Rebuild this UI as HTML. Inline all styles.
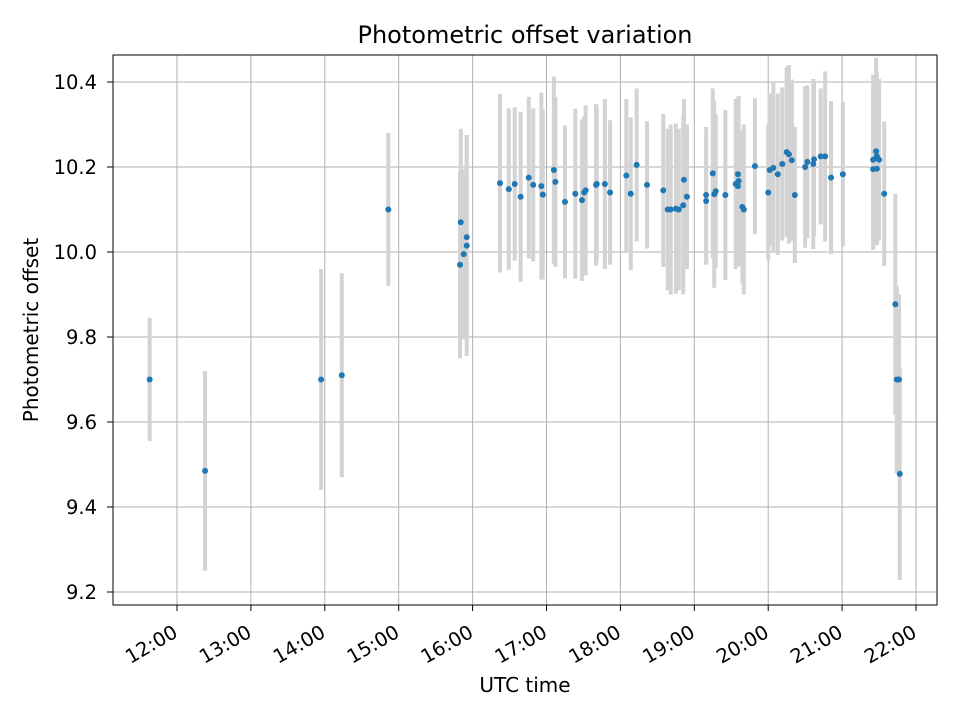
<!DOCTYPE html>
<html><head><meta charset="utf-8"><style>
body{margin:0;background:#fff;font-family:"Liberation Sans","DejaVu Sans",sans-serif;}
svg text{font-family:"DejaVu Sans","Liberation Sans",sans-serif;fill:#000;}
</style></head><body>
<svg id="chart" width="960" height="720" viewBox="0 0 960 720" xmlns="http://www.w3.org/2000/svg">
<rect width="960" height="720" fill="#fff"/>
<g id="grid"></g>
<g id="bars"></g>
<g id="pts"></g>
<rect x="113" y="55" width="824" height="550" fill="none" stroke="#000" stroke-width="1"/>
<g id="axes"></g>
<text x="525" y="43" font-size="24" text-anchor="middle">Photometric offset variation</text>
<text x="525" y="692" font-size="20" text-anchor="middle">UTC time</text>
<text x="38" y="330" font-size="20" text-anchor="middle" transform="rotate(-90 38 330)">Photometric offset</text>
</svg>
<script>
const times=[11.63,12.38,13.95,14.23,14.86,15.83,15.84,15.88,15.92,15.92,16.37,16.49,16.57,16.65,16.76,16.82,16.93,16.95,17.10,17.12,17.25,17.39,17.48,17.51,17.53,17.67,17.68,17.79,17.86,18.08,18.14,18.22,18.36,18.58,18.64,18.68,18.75,18.79,18.85,18.86,18.90,19.16,19.16,19.25,19.27,19.29,19.42,19.56,19.59,19.60,19.59,19.65,19.67,19.82,20.00,20.02,20.07,20.13,20.19,20.25,20.28,20.32,20.36,20.50,20.53,20.61,20.62,20.71,20.77,20.85,21.01,21.42,21.42,21.46,21.47,21.47,21.50,21.57,21.72,21.74,21.77,21.78];
const offsets=[9.70,9.485,9.70,9.71,10.10,9.97,10.07,9.995,10.015,10.035,10.162,10.148,10.16,10.13,10.175,10.158,10.155,10.135,10.193,10.165,10.118,10.137,10.122,10.14,10.145,10.158,10.16,10.16,10.14,10.18,10.137,10.205,10.158,10.145,10.10,10.10,10.102,10.10,10.11,10.17,10.13,10.134,10.12,10.185,10.136,10.143,10.134,10.16,10.183,10.167,10.155,10.106,10.10,10.202,10.14,10.193,10.198,10.183,10.207,10.235,10.23,10.216,10.134,10.20,10.212,10.207,10.218,10.225,10.225,10.175,10.183,10.217,10.195,10.237,10.225,10.196,10.217,10.137,9.877,9.70,9.70,9.478];
const errors=[0.145,0.235,0.26,0.24,0.18,0.22,0.22,0.2,0.26,0.24,0.21,0.19,0.18,0.2,0.19,0.18,0.22,0.2,0.22,0.2,0.18,0.2,0.19,0.18,0.2,0.19,0.18,0.2,0.17,0.18,0.18,0.18,0.15,0.18,0.19,0.2,0.2,0.19,0.21,0.19,0.17,0.16,0.15,0.2,0.22,0.18,0.2,0.2,0.18,0.2,0.19,0.18,0.2,0.16,0.16,0.18,0.2,0.19,0.18,0.2,0.21,0.19,0.16,0.19,0.18,0.2,0.18,0.16,0.2,0.18,0.17,0.2,0.19,0.22,0.2,0.18,0.19,0.17,0.26,0.22,0.2,0.25];
const yTicks=[9.2,9.4,9.6,9.8,10.0,10.2,10.4];
const yTickLabels=["9.2","9.4","9.6","9.8","10.0","10.2","10.4"];
const xTicks=[12,13,14,15,16,17,18,19,20,21,22];
const xTickLabels=["12:00","13:00","14:00","15:00","16:00","17:00","18:00","19:00","20:00","21:00","22:00"];
const L=113,R=937,T=55,B=605,xmin=11.134,xmax=22.284,ymin=9.1694,ymax=10.4635;
const X=v=>L+(v-xmin)/(xmax-xmin)*(R-L);
const Y=v=>B-(v-ymin)/(ymax-ymin)*(B-T);
const NS="http://www.w3.org/2000/svg";
function mk(tag,attrs,parent){const e=document.createElementNS(NS,tag);for(const k in attrs)e.setAttribute(k,attrs[k]);parent.appendChild(e);return e;}
const grid=document.getElementById('grid'),axes=document.getElementById('axes'),bars=document.getElementById('bars'),pts=document.getElementById('pts');
yTicks.forEach((v,i)=>{const y=Y(v);
 const g=mk('line',{x1:L,x2:R,y1:y,y2:y,stroke:'#b0b0b0','stroke-width':1},grid);
 
 const t=mk('line',{x1:L-6,x2:L,y1:y,y2:y,stroke:'#000'},axes);
 
 const tx=mk('text',{x:L-16,y:y+7,'font-size':19.5,'text-anchor':'end'},axes);tx.textContent=yTickLabels[i];
 
});
xTicks.forEach((v,i)=>{const x=X(v);
 const g=mk('line',{x1:x,x2:x,y1:T,y2:B,stroke:'#b0b0b0','stroke-width':1},grid);
 
 const t=mk('line',{x1:x,x2:x,y1:B,y2:B+6,stroke:'#000'},axes);
 
 const ax=x+2,ay=B+31;
 const tx=mk('text',{x:ax,y:ay,'font-size':19.5,'text-anchor':'end',transform:`rotate(-30 ${ax} ${ay})`},axes);tx.textContent=xTickLabels[i];
 
});
times.forEach((t,i)=>{const x=X(t);
 const b=mk('line',{x1:x,x2:x,y1:Y(offsets[i]+errors[i]),y2:Y(offsets[i]-errors[i]),stroke:'#d3d3d3','stroke-width':4},bars);
 
});
times.forEach((t,i)=>{
 const c=mk('circle',{cx:X(t),cy:Y(offsets[i]),r:3,fill:'#1f77b4'},pts);
 
});
</script>
</body></html>
